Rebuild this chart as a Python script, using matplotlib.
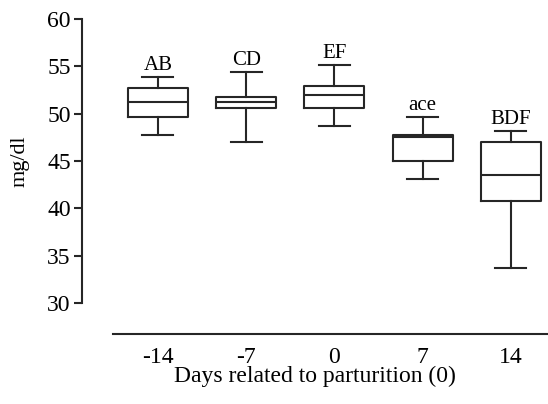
import matplotlib
matplotlib.use("Agg")
import matplotlib.pyplot as plt

plt.rcParams["font.family"] = ["Liberation Serif", "DejaVu Serif"]

days = ["-14", "-7", "0", "7", "14"]
whislo = [47.8, 47.0, 48.7, 43.1, 33.7]
q1 = [49.7, 50.6, 50.6, 45.0, 40.8]
med = [51.2, 51.2, 52.0, 47.5, 43.5]
q3 = [52.7, 51.8, 52.9, 47.8, 47.0]
whishi = [53.9, 54.4, 55.1, 49.7, 48.2]
letters = ["AB", "CD", "EF", "ace", "BDF"]

stats = [
    dict(label=d, whislo=lo, q1=a, med=m, q3=b, whishi=hi, fliers=[])
    for d, lo, a, m, b, hi in zip(days, whislo, q1, med, q3, whishi)
]

fig = plt.figure(figsize=(5.48, 4.04), dpi=100)
ax = fig.add_axes([0.1496, 0.173, 0.8504, 0.78])

lw = 1.5
style = dict(color="#262626", linewidth=lw)
ax.bxp(stats, positions=range(1, 6), widths=0.68, capwidths=0.35,
       boxprops=style, whiskerprops=style, capprops=style,
       medianprops=style, showfliers=False)

for x, hi, t in zip(range(1, 6), whishi, letters):
    ax.annotate(t, (x, hi), xytext=(0, 5), textcoords="offset points",
                ha="center", va="baseline", fontsize=15)

ax.set_xlim(0.14, 5.42)
ax.set_ylim(26.74, 60)
ax.set_yticks(range(30, 61, 5))

ax.spines["top"].set_visible(False)
ax.spines["right"].set_visible(False)
ax.spines["left"].set_bounds(30, 60)
ax.spines["bottom"].set_bounds(0.49, 5.42)
for s in ("left", "bottom"):
    ax.spines[s].set_linewidth(lw)
    ax.spines[s].set_color("#262626")

ax.tick_params(axis="y", length=6, width=lw, labelsize=17, pad=2, color="#262626")
ax.tick_params(axis="x", length=0, labelsize=17, pad=9)

ax.set_xlabel("Days related to parturition (0)", fontsize=17, labelpad=-1)
ax.set_ylabel("mg/dl", fontsize=16)
ax.yaxis.set_label_coords(-0.112, 0.549)

fig.savefig("out.png", dpi=100)
